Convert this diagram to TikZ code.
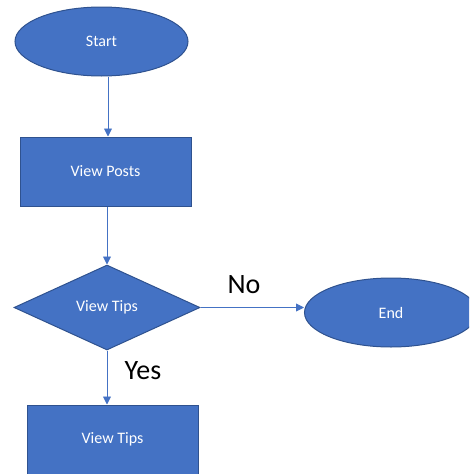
\documentclass[tikz,border=0pt]{standalone}
\usepackage{fontspec}
\setmainfont{Carlito}
\usetikzlibrary{shapes.geometric,arrows.meta}
\definecolor{boxfill}{HTML}{4472C4}
\definecolor{boxline}{HTML}{2F528F}
\definecolor{flowline}{HTML}{4472C4}
\tikzset{
  terminal/.style={ellipse,draw=boxline,fill=boxfill,line width=1pt,
    minimum width=173pt,minimum height=69pt,inner sep=0pt,
    text=white,font=\fontsize{16}{19}\selectfont},
  process/.style={rectangle,draw=boxline,fill=boxfill,line width=1pt,
    minimum width=171pt,minimum height=69pt,inner sep=0pt,
    text=white,font=\fontsize{16}{19}\selectfont},
  decision/.style={diamond,draw=boxline,fill=boxfill,line width=1pt,
    minimum width=186pt,minimum height=85pt,inner sep=0pt,aspect=2.2,
    text=white,font=\fontsize{16}{19}\selectfont},
  flow/.style={draw=flowline,line width=0.9pt,-{Triangle[width=8pt,length=8pt]}},
  answer/.style={font=\fontsize{28}{32}\selectfont}
}
\begin{document}
\begin{tikzpicture}[x=1pt,y=-1pt]
                    \useasboundingbox (0,0) rectangle (469,474);
                    \clip (0,0) rectangle (469,474);

                    % Marking node Start
                    \node [terminal] (start) at (101.5,41.5) {Start};

                    % Marking node View Posts
                    \node [process] (posts) at (105.5,171.5) {View Posts};

                    % Marking node View Tips (decision)
                    \node [decision] (ask) at (107,307.5) {View Tips};

                    % Marking node End
                    \node [terminal] (end) at (391,312.5) {End};

                    % Marking node View Tips (process)
                    \node [process] (tips) at (112.5,439.5) {View Tips};

                    % Drawing flow Start -> View Posts
                    \draw [flow] (start.south -| 108,0) -- (posts.north -| 108,0);

                    % Drawing flow View Posts -> View Tips
                    \draw [flow] (posts.south -| ask.north) -- (ask.north);

                    % Drawing flow No
                    \draw [flow] (ask.east) -- (end.west |- ask.east);
                    \node [answer] (no) at (244,285) {No};

                    % Drawing flow Yes
                    \draw [flow] (ask.south) -- (ask.south |- tips.north);
                    \node [answer] (yes) at (143,371) {Yes};
\end{tikzpicture}
\end{document}
